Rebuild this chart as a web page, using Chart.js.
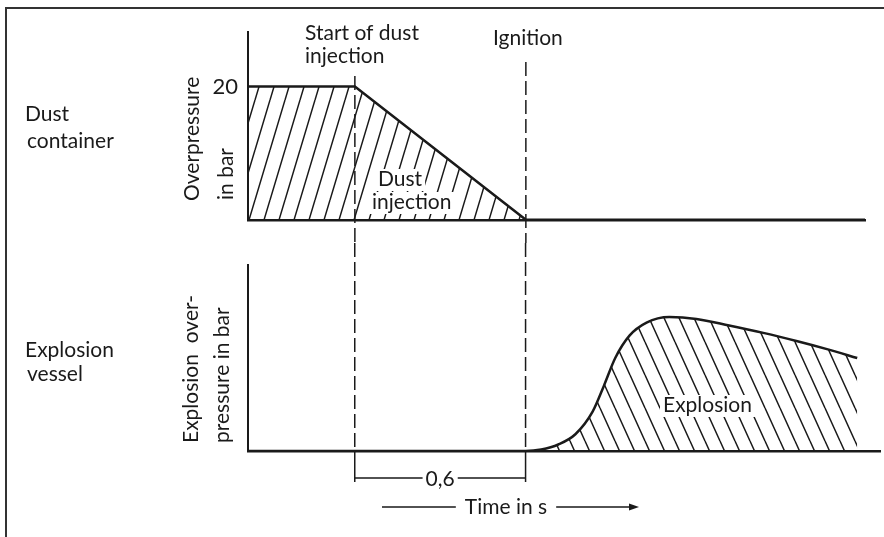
<!DOCTYPE html>
<html lang="en">
<head>
<meta charset="UTF-8">
<title>Dust explosion test sequence</title>
<script src="https://cdn.jsdelivr.net/npm/chart.js@4.4.0/dist/chart.umd.min.js"></script>
<style>
  body { margin: 0; background: #fff; }
  #frame { position: absolute; left: 5px; top: 7px; right: 0; bottom: 0; border-left: 2px solid #333; border-top: 2px solid #333; }
  canvas { position: absolute; left: 0; }
  #topChart { top: 0; }
  #bottomChart { top: 243px; }
</style>
</head>
<body>
<div id="frame"></div>
<canvas id="topChart" width="884" height="243"></canvas>
<canvas id="bottomChart" width="884" height="294"></canvas>
<script>
// time in s, measured from the left axis
const startTime = 0.375;
const ignitionTime = 0.975;

// dust container overpressure (bar)
const containerTime = [0, 0.375, 0.975, 2.165];
const containerPressure = [20, 20, 0, 0];
const containerTicks = [20];

// explosion vessel overpressure (no scale given, read as 0..10)
const vesselTime = [0, 0.975, 1.03, 1.09, 1.15, 1.21, 1.25, 1.29, 1.34, 1.40, 1.48, 1.575, 1.69, 1.81, 1.93, 2.04, 2.14];
const vesselPressure = [0, 0, 0.08, 0.35, 0.9, 2.1, 3.5, 5.0, 6.2, 6.9, 7.2, 7.1, 6.75, 6.35, 5.9, 5.45, 5.0];

const INK = '#1a1a1a';
const FAMILY = 'Lato, "Open Sans", sans-serif';
Chart.defaults.font.family = FAMILY;
Chart.defaults.color = INK;

// diagonal hatch; dir 1 = "/", dir -1 = "\"
function hatch(w, h, dir) {
  const c = document.createElement('canvas');
  c.width = w; c.height = h;
  const g = c.getContext('2d');
  g.strokeStyle = INK;
  g.lineWidth = 1.5;
  g.beginPath();
  for (const k of [-1, 0, 1]) {
    if (dir > 0) { g.moveTo(k * w, h); g.lineTo(k * w + w, 0); }
    else { g.moveTo(k * w, 0); g.lineTo(k * w + w, h); }
  }
  g.stroke();
  return g.createPattern(c, 'repeat');
}

function pts(xs, ys) {
  return xs.map((t, i) => ({ x: t, y: ys[i] }));
}

function label(ctx, text, x, y, blank) {
  if (blank) {
    const w = ctx.measureText(text).width;
    ctx.fillStyle = '#fff';
    ctx.fillRect(x - 3, y - 17, w + 6, 22);
  }
  ctx.fillStyle = INK;
  ctx.fillText(text, x, y);
}

function vtext(ctx, text, x, y) {
  ctx.save();
  ctx.translate(x, y);
  ctx.rotate(-Math.PI / 2);
  ctx.textAlign = 'left';
  ctx.fillText(text, 0, 0);
  ctx.restore();
}

function dashed(ctx, x, y0, y1) {
  ctx.save();
  ctx.setLineDash([14, 5]);
  ctx.lineWidth = 1.5;
  ctx.strokeStyle = INK;
  ctx.beginPath();
  ctx.moveTo(x, y0);
  ctx.lineTo(x, y1);
  ctx.stroke();
  ctx.restore();
}

const topNotes = {
  id: 'topNotes',
  afterDatasetsDraw(chart) {
    const ctx = chart.ctx;
    const x = chart.scales.x;
    ctx.save();
    ctx.font = '21px ' + FAMILY;
    ctx.textBaseline = 'alphabetic';
    label(ctx, 'Dust', 378, 186, true);
    label(ctx, 'injection', 372, 209, true);
    label(ctx, 'Dust', 25, 121);
    label(ctx, 'container', 27, 148);
    label(ctx, 'Start of dust', 305, 40);
    label(ctx, 'injection', 305, 63);
    label(ctx, 'Ignition', 493, 45);
    ctx.fillStyle = INK;
    vtext(ctx, 'Overpressure', 199, 201);
    vtext(ctx, 'in bar', 233, 200);
    dashed(ctx, x.getPixelForValue(startTime), 76, chart.height);
    dashed(ctx, x.getPixelForValue(ignitionTime), 62, chart.height);
    ctx.restore();
  }
};

const bottomNotes = {
  id: 'bottomNotes',
  afterDatasetsDraw(chart) {
    const ctx = chart.ctx;
    const x = chart.scales.x;
    const base = chart.scales.y.getPixelForValue(0);
    const xs = x.getPixelForValue(startTime);
    const xi = x.getPixelForValue(ignitionTime);
    ctx.save();
    ctx.font = '21px ' + FAMILY;
    label(ctx, 'Explosion', 663, 412 - 243, true);
    label(ctx, 'Explosion', 25, 357 - 243);
    label(ctx, 'vessel', 27, 381 - 243);
    ctx.fillStyle = INK;
    vtext(ctx, 'Explosion  over-', 198, 443 - 243);
    vtext(ctx, 'pressure in bar', 229, 443 - 243);

    dashed(ctx, xs, 0, base);
    dashed(ctx, xi, 0, base);

    // 0,6 s bracket between dust start and ignition
    ctx.strokeStyle = INK;
    ctx.lineWidth = 1.5;
    const by = base + 27;
    const mid = (xs + xi) / 2;
    const lab = '0,6';
    const lw = ctx.measureText(lab).width;
    ctx.beginPath();
    ctx.moveTo(xs, base); ctx.lineTo(xs, base + 31);
    ctx.moveTo(xi, base); ctx.lineTo(xi, base + 31);
    ctx.moveTo(xs, by); ctx.lineTo(mid - lw / 2 - 3, by);
    ctx.moveTo(mid + lw / 2 + 3, by); ctx.lineTo(xi, by);
    ctx.stroke();
    ctx.textAlign = 'center';
    ctx.fillText(lab, mid, by + 8);

    // time arrow
    const ty = base + 56;
    const tw = ctx.measureText('Time in s').width;
    const tc = 506;
    ctx.fillText('Time in s', tc, ty + 7);
    ctx.beginPath();
    ctx.moveTo(382, ty); ctx.lineTo(tc - tw / 2 - 9, ty);
    ctx.moveTo(tc + tw / 2 + 9, ty); ctx.lineTo(632, ty);
    ctx.stroke();
    ctx.beginPath();
    ctx.moveTo(639, ty); ctx.lineTo(629, ty - 3.5); ctx.lineTo(629, ty + 3.5);
    ctx.closePath();
    ctx.fill();
    ctx.restore();
  }
};

new Chart(document.getElementById('topChart'), {
  type: 'line',
  data: {
    datasets: [{
      data: pts(containerTime, containerPressure),
      borderColor: INK,
      borderWidth: 2.5,
      pointRadius: 0,
      tension: 0,
      fill: 'origin',
      backgroundColor: hatch(15, 50, 1)
    }]
  },
  options: {
    responsive: false,
    animation: false,
    events: [],
    layout: { padding: { top: 32, right: 19, bottom: 22, left: 0 } },
    plugins: { legend: { display: false }, tooltip: { enabled: false } },
    scales: {
      x: {
        type: 'linear', min: 0, max: 2.165,
        grid: { display: false, drawTicks: false },
        ticks: { display: false },
        border: { display: true, color: INK, width: 2.5 },
        afterFit: s => { s.height = 0; }
      },
      y: {
        min: 0, max: 28.2,
        grid: { display: false, drawTicks: false },
        border: { display: true, color: INK, width: 2 },
        afterBuildTicks: s => { s.ticks = containerTicks.map(v => ({ value: v })); },
        ticks: { font: { size: 22 }, color: INK, padding: 10 },
        afterFit: s => { s.width = 248; }
      }
    }
  },
  plugins: [topNotes]
});

new Chart(document.getElementById('bottomChart'), {
  type: 'line',
  data: {
    datasets: [{
      data: pts(vesselTime, vesselPressure),
      borderColor: INK,
      borderWidth: 2.5,
      pointRadius: 0,
      cubicInterpolationMode: 'monotone',
      fill: 'origin',
      backgroundColor: hatch(15, 33, -1)
    }]
  },
  options: {
    responsive: false,
    animation: false,
    events: [],
    layout: { padding: { top: 22, right: 4, bottom: 86, left: 0 } },
    plugins: { legend: { display: false }, tooltip: { enabled: false } },
    scales: {
      x: {
        type: 'linear', min: 0, max: 2.22,
        grid: { display: false, drawTicks: false },
        ticks: { display: false },
        border: { display: true, color: INK, width: 2.5 },
        afterFit: s => { s.height = 0; }
      },
      y: {
        min: 0, max: 10,
        grid: { display: false, drawTicks: false },
        ticks: { display: false },
        border: { display: true, color: INK, width: 2 },
        afterFit: s => { s.width = 248; }
      }
    }
  },
  plugins: [bottomNotes]
});
</script>
</body>
</html>
